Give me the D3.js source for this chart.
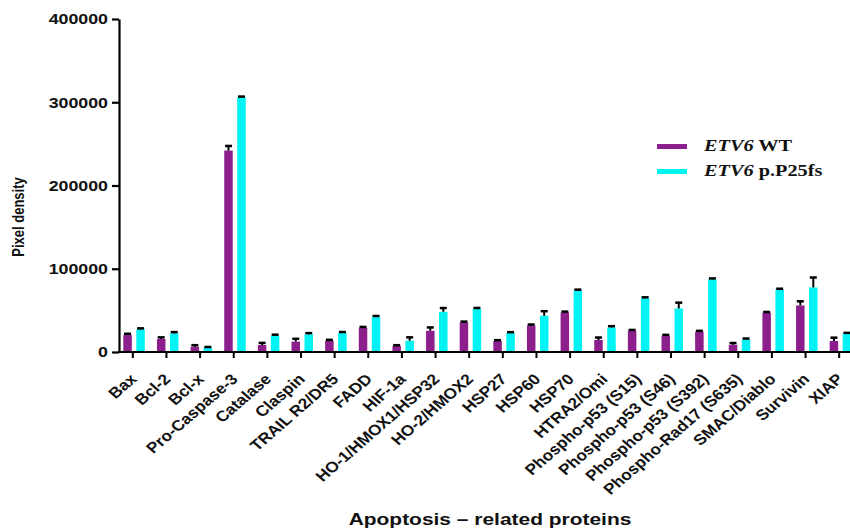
<!DOCTYPE html>
<html><head><meta charset="utf-8">
<script src="https://cdn.jsdelivr.net/npm/d3@7"></script>
<style>body{margin:0;background:#fff}</style>
</head><body><svg id="c" width="850" height="531"></svg>
<script>
const categories = ["Bax","Bcl-2","Bcl-x","Pro-Caspase-3","Catalase","Claspin","TRAIL R2/DR5","FADD","HIF-1a","HO-1/HMOX1/HSP32","HO-2/HMOX2","HSP27","HSP60","HSP70","HTRA2/Omi","Phospho-p53 (S15)","Phospho-p53 (S46)","Phospho-p53 (S392)","Phospho-Rad17 (S635)","SMAC/Diablo","Survivin","XIAP"];
const seriesNames = ["WT","p.P25fs"];
const wtValues  = [20400,15600,6400,242000,8400,12400,13600,29100,7200,25500,35500,13200,32000,47500,14400,25500,19600,24400,8800,47100,55900,13200];
const wtErrors  = [1500,2000,1800,5500,2500,3500,1000,1000,1000,4000,1000,1000,1000,1000,3000,1000,1000,1000,2000,1000,5000,4000];
const mutValues = [27200,22400,5200,306000,19600,21200,22800,42300,13600,48300,51900,22800,43500,73900,29500,64700,52300,87400,15200,75000,77500,22000];
const mutErrors = [1200,1500,800,800,1200,1500,1200,1000,4000,4500,1000,1000,5500,1000,1500,1000,7000,1000,1000,1000,12000,1000];
const yTicks = [0,100000,200000,300000,400000];
const colors = ["#8C1F8C","#00F4F4"];

const SX = 1.27; // horizontal text stretch of the reference
const SXL = 1.15;
const svg = d3.select("#c");
const x0 = d3.scaleBand().domain(categories).range([116,856]).padding(0);
const x1 = d3.scaleBand().domain(seriesNames).range([0,21.5]).paddingInner(0.346).paddingOuter(0);
const y = d3.scaleLinear().domain([0,400000]).range([352,19]);

const rows = categories.map((c,i)=>({cat:c, vals:[
  {s:seriesNames[0], v:wtValues[i], e:wtErrors[i], col:colors[0]},
  {s:seriesNames[1], v:mutValues[i], e:mutErrors[i], col:colors[1]}]}));

const g = svg.append("g").selectAll("g").data(rows).join("g")
  .attr("transform", d=>`translate(${x0(d.cat)+x0.bandwidth()/2-9.5},0)`);
g.selectAll("rect").data(d=>d.vals).join("rect")
  .attr("x", d=>x1(d.s)).attr("width", x1.bandwidth())
  .attr("y", d=>y(d.v)).attr("height", d=>y(0)-y(d.v))
  .attr("fill", d=>d.col);
g.selectAll("line.eb").data(d=>d.vals).join("line").attr("class","eb")
  .attr("x1", d=>x1(d.s)+x1.bandwidth()/2).attr("x2", d=>x1(d.s)+x1.bandwidth()/2)
  .attr("y1", d=>y(d.v)).attr("y2", d=>y(d.v+d.e))
  .attr("stroke","#000").attr("stroke-width",2);
g.selectAll("line.cap").data(d=>d.vals).join("line").attr("class","cap")
  .attr("x1", d=>x1(d.s)+x1.bandwidth()/2-3.5).attr("x2", d=>x1(d.s)+x1.bandwidth()/2+3.5)
  .attr("y1", d=>y(d.v+d.e)).attr("y2", d=>y(d.v+d.e))
  .attr("stroke","#000").attr("stroke-width",2.5);

// Y axis
const ya = svg.append("g").attr("transform","translate(119,0)")
  .call(d3.axisLeft(y).tickValues(yTicks).tickFormat(d3.format("d")).tickSize(7).tickSizeOuter(0));
ya.select(".domain").attr("stroke","#000").attr("stroke-width",2.2);
ya.selectAll(".tick line").attr("stroke","#000").attr("stroke-width",2.2);
ya.selectAll(".tick text").attr("x",0).attr("dy","0.35em")
  .attr("transform",`translate(-11,0) scale(${SX},1)`)
  .style("font-family","'Liberation Sans', Arial, sans-serif").style("font-weight","bold")
  .style("font-size","14px").attr("fill","#111");

// X axis
const xa = svg.append("g").attr("transform","translate(0,352)")
  .call(d3.axisBottom(x0).tickSize(6).tickSizeOuter(0));
xa.select(".domain").attr("stroke","#000").attr("stroke-width",2.2).attr("d","M118,0H856");
xa.selectAll(".tick line").attr("stroke","#000").attr("stroke-width",2);
xa.selectAll(".tick text").attr("x",0).attr("y",0).attr("dy",0)
  .attr("text-anchor","end")
  .attr("transform",`translate(5,28) scale(${SXL},1) rotate(-45)`)
  .style("font-family","'Liberation Sans', Arial, sans-serif").style("font-weight","bold")
  .style("font-size","15px").attr("fill","#111");

// Axis titles
svg.append("text").attr("transform",`translate(24,217) scale(${SX},1) rotate(-90)`)
  .attr("text-anchor","middle")
  .style("font-family","'Liberation Sans', Arial, sans-serif").style("font-weight","bold")
  .style("font-size","13px").attr("fill","#111").text("Pixel density");
svg.append("text").attr("transform",`translate(490,525) scale(${SX},1)`)
  .attr("text-anchor","middle")
  .style("font-family","'Liberation Sans', Arial, sans-serif").style("font-weight","bold")
  .style("font-size","16.5px").attr("fill","#111").text("Apoptosis – related proteins");

// Legend
const legendLabels = ["WT","p.P25fs"];
const lg = svg.append("g").selectAll("g").data(seriesNames).join("g")
  .attr("transform",(d,i)=>`translate(657,${144+i*25})`);
lg.append("rect").attr("width",30).attr("height",5).attr("fill",(d,i)=>colors[i]);
const lt = lg.append("text").attr("transform",`translate(47,6.5) scale(${SX},1)`)
  .style("font-family","'Liberation Serif','Times New Roman',serif").style("font-weight","bold")
  .style("font-size","16px").attr("fill","#111");
lt.append("tspan").style("font-style","italic").text("ETV6");
lt.append("tspan").text((d,i)=>" "+legendLabels[i]);
</script></body></html>
